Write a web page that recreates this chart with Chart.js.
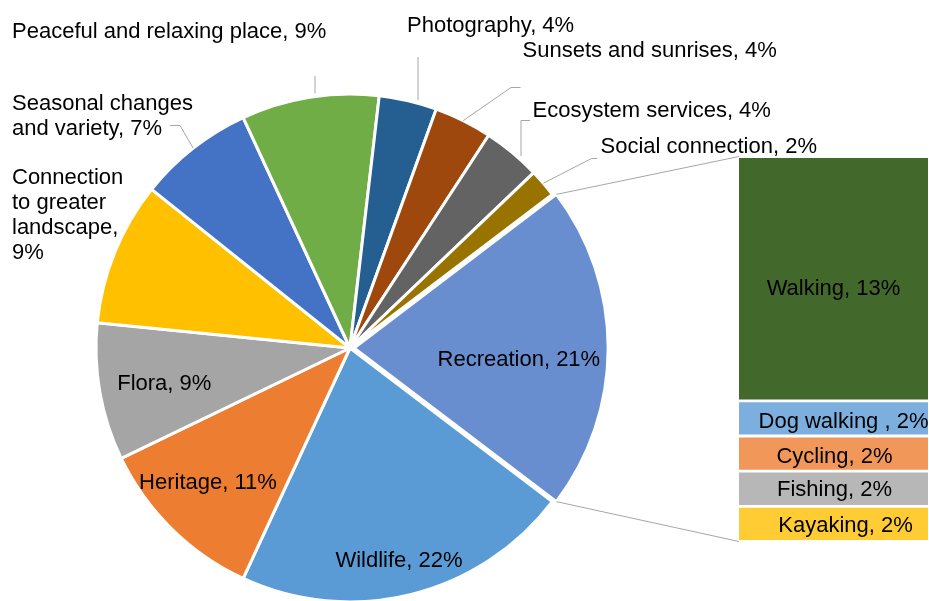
<!DOCTYPE html>
<html>
<head>
<meta charset="utf-8">
<title>Bar of pie</title>
<script src="https://cdn.jsdelivr.net/npm/chart.js@4.4.1/dist/chart.umd.min.js"></script>
<style>
  html, body { margin: 0; padding: 0; background: #fff; overflow: hidden; }
  #wrap { position: relative; width: 929px; height: 601px; }
  #wrap canvas { position: absolute; left: 0; top: 0; }
</style>
</head>
<body>
<div id="wrap">
  <canvas id="pieChart" width="929" height="601"></canvas>
  <canvas id="barChart" width="929" height="601"></canvas>
</div>
<script>
// data (shares in %)
const otherLabel = "Recreation";
const pieCats = ["Wildlife", "Heritage", "Flora", "Connection to greater landscape",
  "Seasonal changes and variety", "Peaceful and relaxing place", "Photography",
  "Sunsets and sunrises", "Ecosystem services", "Social connection"];
const pieVals = [21.7, 11.0, 8.8, 9.2, 7.4, 8.8, 3.7, 3.7, 3.7, 1.8];
const barCats = ["Walking", "Dog walking ", "Cycling", "Fishing", "Kayaking"];
const barVals = [13.2, 1.9, 1.9, 1.9, 1.9];

const pieColors = ["#698ED0", "#5B9BD5", "#ED7D31", "#A5A5A5", "#FFC000", "#4472C4",
  "#70AD47", "#255E91", "#9E480E", "#636363", "#997300"];
const barColors = ["#43682B", "#7CAFDD", "#F1975A", "#B7B7B7", "#FFCD33"];

// the split slice is the sum of the bar
const otherVal = barVals.reduce((a, b) => a + b, 0);
const allCats = [otherLabel, ...pieCats];
const allVals = [otherVal, ...pieVals];
const total = allVals.reduce((a, b) => a + b, 0);

const FONT = '22px "Liberation Sans", Arial, sans-serif';
const LEADER = '#A6A6A6';

// label placement
const insideSpots = {
  "Recreation": { f: 0.65, a: 4 },
  "Wildlife": { f: 0.86, a: 1 },
  "Heritage": { f: 0.77, a: 2 },
  "Flora": { f: 0.745, a: -1 }
};
// drop: leader falls straight down onto the rim
const outsideSpots = {
  "Peaceful and relaxing place": { x: 12, y: 38, leader: [[315, 76]], drop: true },
  "Seasonal changes and variety": { x: 12, y: 109.5, lh: 25.5, lines: ["Seasonal changes", "and variety, {p}"],
    leader: [[170, 125.5], [180, 125.5]] },
  "Connection to greater landscape": { x: 12, y: 183.5, lh: 25, lines: ["Connection", "to greater", "landscape,", "{p}"] },
  "Photography": { x: 407, y: 31.5, leader: [[418, 57]], drop: true },
  "Sunsets and sunrises": { x: 522.5, y: 57, leader: [[520.5, 87.5], [511, 87.5]] },
  "Ecosystem services": { x: 532.5, y: 117, leader: [[530, 120.5], [521, 120.5]], drop: true },
  "Social connection": { x: 600.5, y: 152.5, leader: [[597, 158.5], [591.5, 158.5]] }
};
const barNudge = {
  "Walking": [0, 10], "Dog walking ": [10, 4], "Cycling": [1, 3], "Fishing": [1, 1], "Kayaking": [12, 2]
};

const pct = v => Math.round(v / total * 100) + '%';

function arcShift(arc) {
  const off = (arc.options.offset || 0) / 4;
  const circ = arc.endAngle - arc.startAngle;
  return off * (2 - Math.sin(Math.min(Math.PI, circ)));
}

const pieLabels = {
  id: 'pieLabels',
  afterDatasetsDraw(chart) {
    const ctx = chart.ctx;
    const arcs = chart.getDatasetMeta(0).data;
    ctx.save();
    ctx.font = FONT;
    ctx.fillStyle = '#000';
    ctx.strokeStyle = LEADER;
    ctx.lineWidth = 1;
    arcs.forEach((arc, i) => {
      const name = allCats[i];
      const p = pct(allVals[i]);
      const mid = (arc.startAngle + arc.endAngle) / 2;
      const sh = arcShift(arc);
      const cx = arc.x + Math.cos(mid) * sh;
      const cy = arc.y + Math.sin(mid) * sh;
      const r = arc.outerRadius;
      const ins = insideSpots[name];
      if (ins) {
        const a = mid + ins.a * Math.PI / 180;
        ctx.textAlign = 'center';
        ctx.textBaseline = 'middle';
        ctx.fillText(name + ', ' + p, cx + Math.cos(a) * r * ins.f, cy + Math.sin(a) * r * ins.f);
        return;
      }
      const o = outsideSpots[name];
      if (o.leader) {
        const pts = o.leader;
        ctx.beginPath();
        ctx.moveTo(pts[0][0], pts[0][1]);
        pts.slice(1).forEach(pt => ctx.lineTo(pt[0], pt[1]));
        const lx = pts[pts.length - 1][0];
        if (o.drop) {
          const rr = r + 3;
          ctx.lineTo(lx, cy - Math.sqrt(rr * rr - (lx - cx) * (lx - cx)));
        } else {
          ctx.lineTo(cx + Math.cos(mid) * r, cy + Math.sin(mid) * r);
        }
        ctx.stroke();
      }
      const lines = o.lines ? o.lines.map(s => s.replace('{p}', p)) : [name + ', ' + p];
      ctx.textAlign = 'left';
      ctx.textBaseline = 'alphabetic';
      lines.forEach((s, k) => ctx.fillText(s, o.x, o.y + k * (o.lh || 0)));
    });
    ctx.restore();
  }
};

const pieChart = new Chart(document.getElementById('pieChart'), {
  type: 'pie',
  data: {
    labels: allCats,
    datasets: [{
      data: allVals,
      backgroundColor: pieColors,
      borderColor: '#fff',
      borderWidth: 3,
      offset: allVals.map((v, i) => i === 0 ? 16 : 0)
    }]
  },
  options: {
    responsive: false,
    animation: false,
    // centre the split slice on 3 o'clock
    rotation: 90 - otherVal / total * 180,
    radius: 254,
    layout: { padding: { left: 0, right: 229, top: 95, bottom: 0 } },
    plugins: { legend: { display: false }, tooltip: { enabled: false } }
  },
  plugins: [pieLabels]
});

const barLabels = {
  id: 'barLabels',
  afterDatasetsDraw(chart) {
    const ctx = chart.ctx;
    ctx.save();
    ctx.font = FONT;
    ctx.fillStyle = '#000';
    ctx.textAlign = 'center';
    ctx.textBaseline = 'middle';
    barCats.forEach((c, i) => {
      const el = chart.getDatasetMeta(i).data[0];
      const n = barNudge[c] || [0, 0];
      ctx.fillText(c + ', ' + pct(barVals[i]), el.x + n[0], (el.y + el.base) / 2 + n[1]);
    });
    ctx.restore();
  }
};

// lines from the split slice to the bar
const linkLines = {
  id: 'linkLines',
  afterDatasetsDraw(chart) {
    const arc = pieChart.getDatasetMeta(0).data[0];
    const mid = (arc.startAngle + arc.endAngle) / 2;
    const sh = arcShift(arc);
    const cx = arc.x + Math.cos(mid) * sh;
    const cy = arc.y + Math.sin(mid) * sh;
    const r = arc.outerRadius;
    const first = chart.getDatasetMeta(0).data[0];
    const last = chart.getDatasetMeta(barCats.length - 1).data[0];
    const left = first.x - first.width / 2;
    const top = Math.min(first.y, first.base);
    const bottom = Math.max(last.y, last.base);
    const ctx = chart.ctx;
    ctx.save();
    ctx.strokeStyle = LEADER;
    ctx.lineWidth = 1;
    ctx.beginPath();
    ctx.moveTo(cx + Math.cos(arc.startAngle) * r, cy + Math.sin(arc.startAngle) * r);
    ctx.lineTo(left, top);
    ctx.moveTo(cx + Math.cos(arc.endAngle) * r, cy + Math.sin(arc.endAngle) * r);
    ctx.lineTo(left, bottom);
    ctx.stroke();
    ctx.restore();
  }
};

new Chart(document.getElementById('barChart'), {
  type: 'bar',
  data: {
    labels: [otherLabel],
    datasets: barCats.map((c, i) => ({
      label: c,
      data: [barVals[i]],
      backgroundColor: barColors[i]
    }))
  },
  options: {
    responsive: false,
    animation: false,
    layout: { padding: { left: 739, right: 1, top: 156.5, bottom: 59.5 } },
    datasets: {
      bar: {
        categoryPercentage: 1,
        barPercentage: 1,
        borderColor: '#fff',
        borderWidth: { top: 1.75, bottom: 1.75, left: 0, right: 0 },
        borderSkipped: false
      }
    },
    scales: {
      x: { display: false, stacked: true },
      y: { display: false, stacked: true, reverse: true, min: 0, max: otherVal }
    },
    plugins: { legend: { display: false }, tooltip: { enabled: false } }
  },
  plugins: [barLabels, linkLines]
});
</script>
</body>
</html>
